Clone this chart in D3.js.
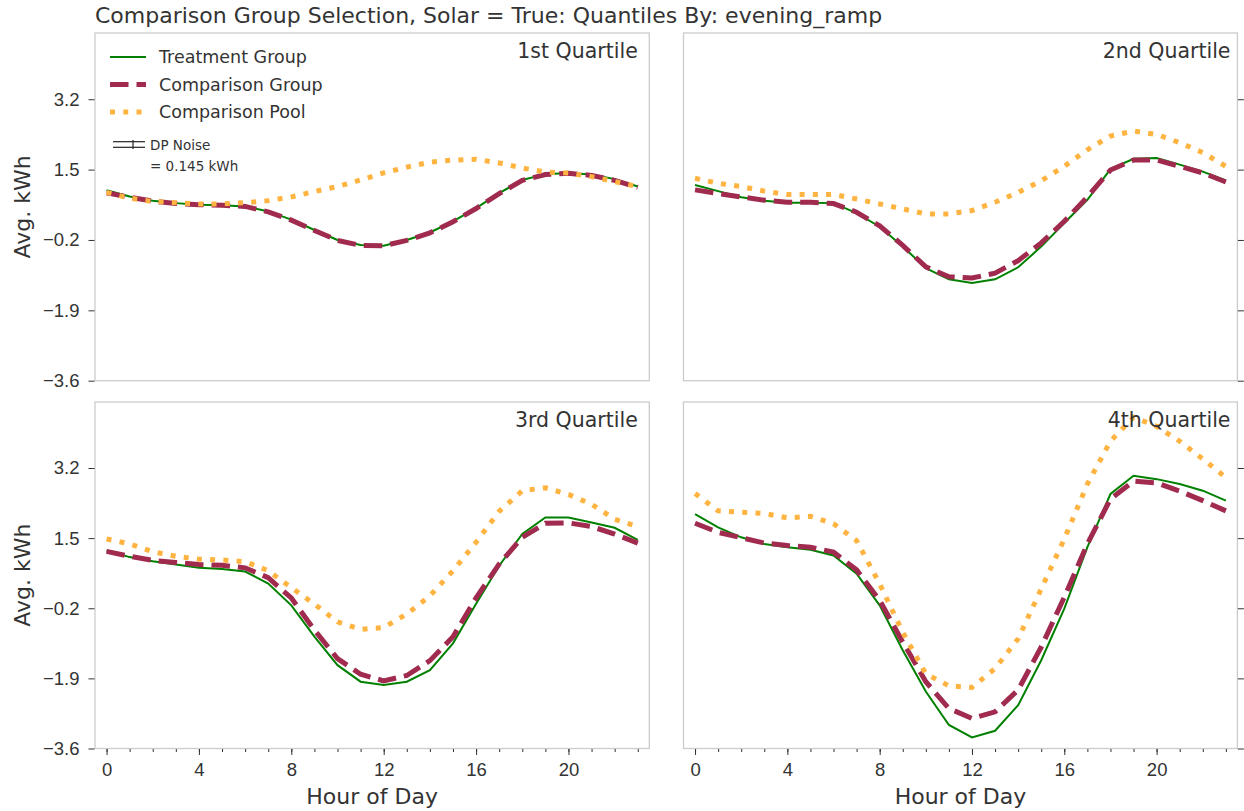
<!DOCTYPE html>
<html>
<head>
<meta charset="utf-8">
<script src="https://cdn.jsdelivr.net/npm/d3@7"></script>
<style>
  body { margin: 0; background: #fff; }
  svg { font-family: "DejaVu Sans", sans-serif; }
  .tick text { fill: #333; }
  .tick line { stroke: #333; }
</style>
</head>
<body>
<script>
'use strict';

// ---- data ----
var hours = [0, 1, 2, 3, 4, 5, 6, 7, 8, 9, 10, 11, 12, 13, 14, 15, 16, 17, 18, 19, 20, 21, 22, 23];
var quartileNames = ['1st Quartile', '2nd Quartile', '3rd Quartile', '4th Quartile'];
var seriesNames = ['Treatment Group', 'Comparison Group', 'Comparison Pool'];
var yTicks = [-3.6, -1.9, -0.2, 1.5, 3.2];
var xMajorTicks = [0, 4, 8, 12, 16, 20];

var treatQ1 = [1.00, 0.85, 0.75, 0.69, 0.65, 0.64, 0.61, 0.49, 0.29, 0.04, -0.20, -0.32, -0.34, -0.20, -0.02, 0.25, 0.57, 0.93, 1.25, 1.39, 1.42, 1.38, 1.27, 1.09];
var compQ1  = [0.94, 0.83, 0.74, 0.68, 0.65, 0.64, 0.61, 0.48, 0.28, 0.03, -0.21, -0.33, -0.34, -0.21, -0.03, 0.24, 0.56, 0.92, 1.24, 1.38, 1.41, 1.36, 1.24, 1.07];
var poolQ1  = [0.95, 0.81, 0.73, 0.70, 0.67, 0.67, 0.70, 0.75, 0.84, 0.97, 1.09, 1.25, 1.42, 1.56, 1.68, 1.73, 1.75, 1.66, 1.54, 1.44, 1.42, 1.33, 1.21, 1.09];

var treatQ2 = [1.13, 0.98, 0.83, 0.75, 0.70, 0.70, 0.69, 0.45, 0.12, -0.36, -0.88, -1.15, -1.24, -1.15, -0.86, -0.36, 0.21, 0.77, 1.51, 1.76, 1.78, 1.62, 1.45, 1.24];
var compQ2  = [1.01, 0.92, 0.84, 0.76, 0.71, 0.71, 0.68, 0.47, 0.14, -0.33, -0.85, -1.09, -1.12, -1.00, -0.70, -0.27, 0.25, 0.84, 1.49, 1.73, 1.73, 1.58, 1.42, 1.20];
var poolQ2  = [1.29, 1.17, 1.09, 0.98, 0.90, 0.90, 0.90, 0.79, 0.67, 0.55, 0.43, 0.43, 0.51, 0.71, 0.95, 1.23, 1.58, 1.98, 2.31, 2.43, 2.35, 2.15, 1.91, 1.58];

var treatQ3 = [1.20, 1.04, 0.94, 0.86, 0.78, 0.75, 0.69, 0.40, -0.13, -0.89, -1.58, -1.98, -2.06, -1.98, -1.70, -1.05, -0.09, 0.83, 1.60, 2.00, 2.00, 1.88, 1.75, 1.46];
var compQ3  = [1.18, 1.06, 0.96, 0.91, 0.86, 0.84, 0.78, 0.54, 0.05, -0.73, -1.42, -1.80, -1.96, -1.83, -1.47, -0.89, 0.05, 0.87, 1.52, 1.86, 1.87, 1.78, 1.60, 1.38];
var poolQ3  = [1.48, 1.36, 1.17, 1.06, 0.99, 0.97, 0.93, 0.71, 0.30, -0.10, -0.53, -0.71, -0.67, -0.34, 0.10, 0.71, 1.40, 2.15, 2.65, 2.72, 2.56, 2.32, 1.96, 1.78];

var treatQ4 = [2.08, 1.76, 1.52, 1.36, 1.28, 1.22, 1.08, 0.64, -0.13, -1.22, -2.22, -3.03, -3.33, -3.17, -2.55, -1.46, -0.21, 1.28, 2.57, 3.01, 2.93, 2.81, 2.65, 2.41];
var compQ4  = [1.86, 1.64, 1.51, 1.38, 1.32, 1.28, 1.16, 0.73, -0.01, -1.02, -1.98, -2.63, -2.87, -2.71, -2.18, -1.14, 0.07, 1.36, 2.45, 2.88, 2.84, 2.64, 2.41, 2.16];
var poolQ4  = [2.58, 2.16, 2.13, 2.10, 1.99, 2.03, 1.85, 1.44, 0.39, -0.78, -1.79, -2.08, -2.12, -1.66, -0.94, 0.27, 1.48, 2.81, 3.85, 4.43, 4.21, 3.85, 3.42, 2.97];

var noiseLabel = ['DP Noise', '= 0.145 kWh'];

// ---- styles ----
var colors = ['#008000', '#a02b4e', '#ffb341'];
var widths = [2, 5, 5];
var dashes = [null, '18.5 8', '5 8.25'];

var panels = [
  { name: quartileNames[0], series: [treatQ1, compQ1, poolQ1], left: 95, right: 649.3, top: 33, bottom: 380.7, col: 0, row: 0 },
  { name: quartileNames[1], series: [treatQ2, compQ2, poolQ2], left: 683.5, right: 1237.4, top: 33, bottom: 380.7, col: 1, row: 0 },
  { name: quartileNames[2], series: [treatQ3, compQ3, poolQ3], left: 95, right: 649.3, top: 402, bottom: 748.5, col: 0, row: 1 },
  { name: quartileNames[3], series: [treatQ4, compQ4, poolQ4], left: 683.5, right: 1237.4, top: 402, bottom: 748.5, col: 1, row: 1 }
];

var svg = d3.select('body').append('svg')
  .attr('width', 1244)
  .attr('height', 811);

// title
svg.append('text')
  .attr('x', 95)
  .attr('y', 23)
  .style('font-size', '22px')
  .style('fill', '#333')
  .text('Comparison Group Selection, Solar = True: Quantiles By: evening_ramp');

panels.forEach(function(p) {
  var xScale = d3.scaleLinear().domain([-0.5, 23.5]).range([p.left, p.right]);
  var yScale = d3.scaleLinear().domain([-3.6, 4.8]).range([p.bottom, p.top]);
  var g = svg.append('g');

  // frame
  g.append('rect')
    .attr('x', p.left)
    .attr('y', p.top)
    .attr('width', p.right - p.left)
    .attr('height', p.bottom - p.top)
    .attr('fill', '#fff')
    .attr('stroke', '#cccccc')
    .attr('stroke-width', 1.3);

  // y axis: labels on the left column, bare ticks on the right column
  if (p.col === 0) {
    g.append('g')
      .attr('transform', 'translate(' + (p.left - 0.5) + ',0)')
      .call(d3.axisLeft(yScale).tickValues(yTicks).tickSize(6).tickPadding(9)
        .tickFormat(d3.format('.1f')))
      .call(function(a) { a.select('.domain').remove(); })
      .selectAll('text').style('font-size', '18.5px');

    g.append('text')
      .attr('transform', 'translate(30,' + ((p.top + p.bottom) / 2) + ') rotate(-90)')
      .style('text-anchor', 'middle')
      .style('font-size', '22px')
      .style('fill', '#333')
      .text('Avg. kWh');
  } else {
    g.append('g')
      .attr('transform', 'translate(' + (p.right + 0.5) + ',0)')
      .call(d3.axisRight(yScale).tickValues(yTicks).tickSize(6).tickFormat(''))
      .call(function(a) { a.select('.domain').remove(); });
  }

  // x axis only on the bottom row
  if (p.row === 1) {
    g.append('g')
      .attr('transform', 'translate(0,' + (p.bottom + 0.5) + ')')
      .call(d3.axisBottom(xScale).tickValues(hours).tickSize(3).tickFormat(''))
      .call(function(a) { a.select('.domain').remove(); });
    g.append('g')
      .attr('transform', 'translate(0,' + (p.bottom + 0.5) + ')')
      .call(d3.axisBottom(xScale).tickValues(xMajorTicks).tickSize(6).tickPadding(8))
      .call(function(a) { a.select('.domain').remove(); })
      .selectAll('text').style('font-size', '18.5px');

    g.append('text')
      .attr('x', (p.left + p.right) / 2)
      .attr('y', 804)
      .style('text-anchor', 'middle')
      .style('font-size', '22px')
      .style('fill', '#333')
      .text('Hour of Day');
  }

  // lines
  var line = d3.line()
    .x(function(d, i) { return xScale(hours[i]); })
    .y(function(d) { return yScale(d); });

  p.series.forEach(function(values, k) {
    g.append('path')
      .datum(values)
      .attr('fill', 'none')
      .attr('stroke', colors[k])
      .attr('stroke-width', widths[k])
      .attr('stroke-dasharray', dashes[k])
      .attr('d', line);
  });

  // quartile label, right-aligned near the last hour
  g.append('text')
    .attr('x', p.col === 0 ? xScale(23) : xScale(23.2))
    .attr('y', p.top + 25)
    .style('text-anchor', 'end')
    .style('font-size', '20.5px')
    .style('fill', '#333')
    .text(p.name);
});

// legend inside the first panel
var legend = svg.append('g').attr('class', 'legend');
seriesNames.forEach(function(name, k) {
  var yy = 57 + k * 27.5;
  legend.append('line')
    .attr('x1', 110).attr('x2', 146)
    .attr('y1', yy).attr('y2', yy)
    .attr('stroke', colors[k])
    .attr('stroke-width', widths[k])
    .attr('stroke-dasharray', dashes[k]);
  legend.append('text')
    .attr('x', 159)
    .attr('y', yy)
    .attr('dy', '0.35em')
    .style('font-size', '17.5px')
    .style('fill', '#333')
    .text(name);
});

// DP noise marker (error-bar glyph)
legend.append('line').attr('x1', 113).attr('x2', 145).attr('y1', 141.7).attr('y2', 141.7)
  .attr('stroke', '#222').attr('stroke-width', 1.2);
legend.append('line').attr('x1', 113).attr('x2', 145).attr('y1', 147.3).attr('y2', 147.3)
  .attr('stroke', '#222').attr('stroke-width', 1.2);
legend.append('line').attr('x1', 133).attr('x2', 133).attr('y1', 140).attr('y2', 149)
  .attr('stroke', '#222').attr('stroke-width', 1.2);
noiseLabel.forEach(function(t, i) {
  legend.append('text')
    .attr('x', 150)
    .attr('y', 150 + i * 21)
    .style('font-size', '13.5px')
    .style('fill', '#333')
    .text(t);
});
</script>
</body>
</html>
